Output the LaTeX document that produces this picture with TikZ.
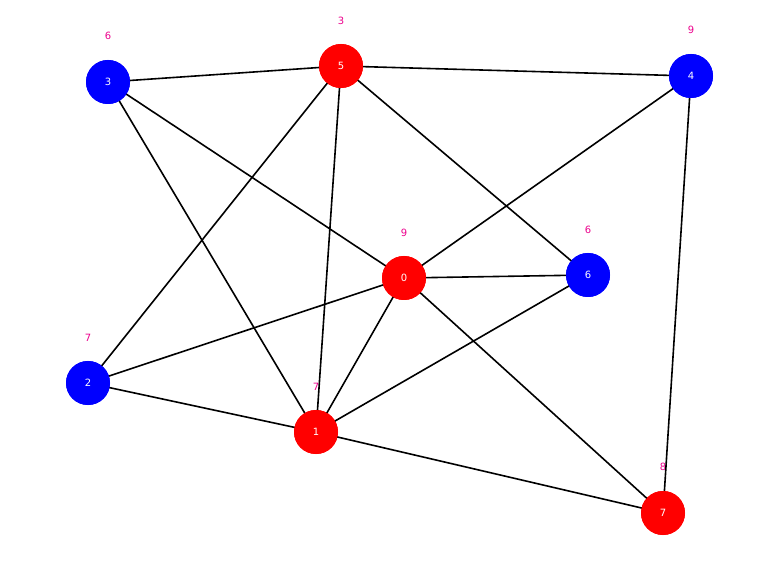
\documentclass[tikz,border=0pt]{standalone}
\usepackage{fontspec}
\setmainfont{DejaVu Sans}
\begin{document}
\begin{tikzpicture}[x=1pt,y=-1pt,
  vtx/.style={circle,minimum size=44pt,inner sep=0pt,text=white,font=\fontsize{10}{12}\selectfont},
  rv/.style={vtx,fill=red},
  bv/.style={vtx,fill=blue},
  lab/.style={text=magenta,font=\fontsize{10}{12}\selectfont},
  edge/.style={line width=1.6pt,black}]
\useasboundingbox (0,0) rectangle (780,580);
\node[rv] (n0) at (404,278) {0};
\node[rv] (n1) at (316,432) {1};
\node[bv] (n2) at (88,383) {2};
\node[bv] (n3) at (108,82) {3};
\node[bv] (n4) at (691,76) {4};
\node[rv] (n5) at (341,66) {5};
\node[bv] (n6) at (588,275) {6};
\node[rv] (n7) at (663,513) {7};
\node[lab] (l0) at (404,233) {9};
\node[lab] (l1) at (316,387) {7};
\node[lab] (l2) at (88,338) {7};
\node[lab] (l3) at (108,36) {6};
\node[lab] (l4) at (691,30) {9};
\node[lab] (l5) at (341,21) {3};
\node[lab] (l6) at (588,230) {6};
\node[lab] (l7) at (663,467) {8};
\begin{scope}[on background layer/.style={}]
\foreach \a/\b in {3/5,5/4,3/0,3/1,5/2,5/1,5/6,4/0,4/7,0/6,0/2,0/1,0/7,6/1,2/1,1/7}
  \draw[edge] (n\a.center) -- (n\b.center);
\end{scope}
\foreach \i/\c in {0/red,1/red,2/blue,3/blue,4/blue,5/red,6/blue,7/red}
  \node[vtx,fill=\c] at (n\i) {\i};
\end{tikzpicture}
\end{document}
